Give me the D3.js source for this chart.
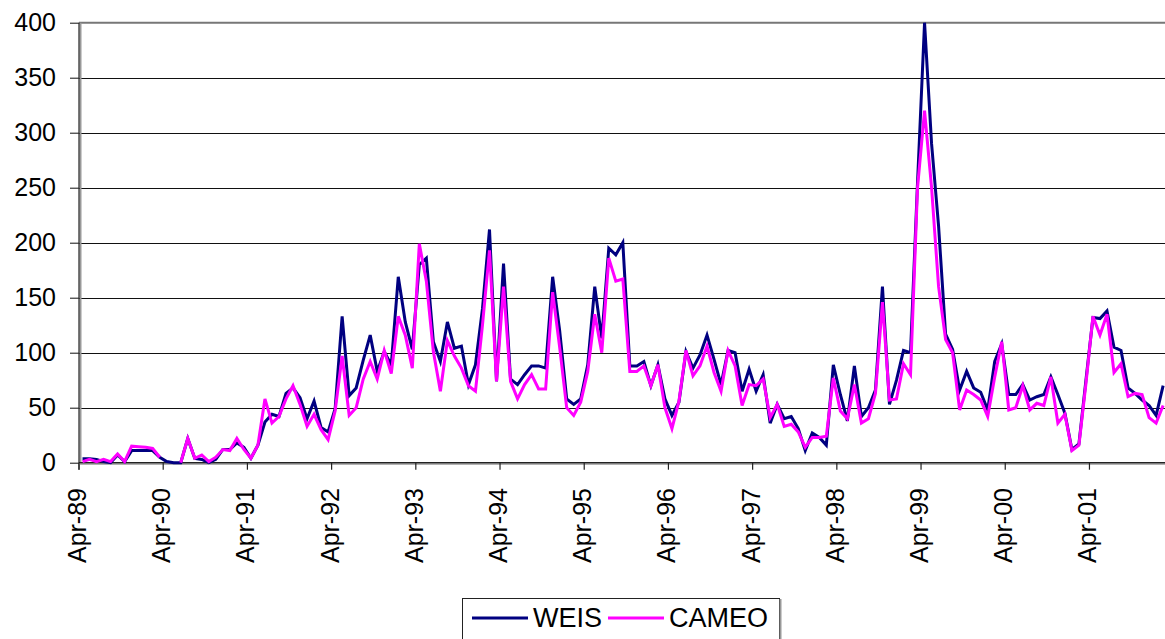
<!DOCTYPE html>
<html>
<head>
<meta charset="utf-8">
<script src="https://cdn.jsdelivr.net/npm/d3@7"></script>
<style>
  html, body { margin: 0; padding: 0; background: #fff; }
  svg { display: block; font-family: "Liberation Sans", Arial, sans-serif; }
</style>
</head>
<body>
<svg id="chart" width="1165" height="639"></svg>
<script>
// ---- data (monthly counts, Apr-1989 onwards) ----
const startMonth = new Date(Date.UTC(1989, 3, 1));
const seriesNames = ["WEIS", "CAMEO"];
const weis = [
  3.5, 3.5, 3, 1, 0, 7, 1, 11, 11, 11, 11, 5,
  1, 0, 0, 22, 4, 3, 0, 3, 12, 12, 18, 14,
  4, 16, 37, 44, 42, 63, 68, 59, 40, 56, 32, 28,
  49, 133, 61, 68, 93, 116, 83, 101, 89, 169, 128, 103,
  180, 186, 110, 92, 128, 104, 106, 71, 89, 140, 212, 74,
  181, 76, 71, 80, 88, 88, 86, 169, 120, 58, 53, 58,
  89, 160, 113, 195, 189, 200, 88, 88, 92, 70, 89, 58,
  43, 55, 101, 86, 98, 116, 94, 71, 102, 100, 65, 85,
  65, 80, 36, 53, 40, 42, 31, 11, 27, 23, 16, 89,
  62, 38, 88, 42, 50, 66, 160, 53, 75, 102, 100, 255,
  400, 290, 215, 117, 103, 66, 83, 68, 64, 48, 92, 108,
  62, 62, 71, 57, 60, 62, 78, 62, 45, 12, 17, 75,
  132, 131, 138, 105, 102, 68, 63, 57, 52, 43, 70
];
const cameo = [
  1, 3, 1, 3, 1, 8, 1, 15, 14.5, 14, 13, 5,
  null, null, 0, 22, 4, 7, 1, 5, 12, 11, 22, 12,
  4, 16, 58, 36, 42, 58, 70, 53, 33, 44, 30, 21,
  47, 97, 43, 50, 76, 92, 76, 102, 81, 133, 116, 86,
  199, 165, 101, 65, 111, 97, 86, 70, 65, 125, 193, 74,
  160, 74, 58, 71, 80, 67, 67, 155, 105, 50, 43, 55,
  83, 135, 100, 186, 165, 167, 83, 83, 88, 70, 89, 50,
  31, 56, 102, 79, 88, 106, 82, 65, 102, 88, 52, 71,
  70, 76, 41, 53, 33, 35, 28, 14, 23, 23, 24, 77,
  47, 40, 71, 36, 40, 63, 146, 57, 58, 90, 80, 250,
  320, 250, 160, 112, 100, 48, 66, 62, 57, 42, 78, 110,
  48, 50, 70, 48, 54, 52, 78, 36, 44, 11, 16, 72,
  133, 116, 135, 82, 90, 60, 63, 62, 41, 36, 52
];
const yTicks = [0, 50, 100, 150, 200, 250, 300, 350, 400];
const xTickLabels = ["Apr-89","Apr-90","Apr-91","Apr-92","Apr-93","Apr-94","Apr-95",
                     "Apr-96","Apr-97","Apr-98","Apr-99","Apr-00","Apr-01"];

(function () {
// categories: one per month
const categories = d3.utcMonth.range(startMonth, d3.utcMonth.offset(startMonth, weis.length));
const fmt = d3.utcFormat("%b-%y");

const svg = d3.select("#chart");
const pLeft = 79, pRight = 79 + categories.length * 7.017, pTop = 22.7, pBottom = 462.7;

const x = d3.scaleBand().domain(d3.range(categories.length)).range([pLeft, pRight]).padding(0);
const y = d3.scaleLinear().domain([0, 400]).range([pBottom, pTop]);
const cx = i => x(i) + x.bandwidth() / 2;

// gridlines
svg.append("g").selectAll("line").data(yTicks.filter(v => v > 0 && v < 400)).join("line")
  .attr("x1", pLeft).attr("x2", 1165)
  .attr("y1", d => Math.round(y(d)) + 0.5).attr("y2", d => Math.round(y(d)) + 0.5)
  .attr("stroke", "#111").attr("stroke-width", 1);
// top frame
svg.append("line").attr("x1", pLeft).attr("x2", 1165)
  .attr("y1", y(400)).attr("y2", y(400)).attr("stroke", "#777").attr("stroke-width", 2);

// y axis
const yAxis = d3.axisLeft(y).tickValues(yTicks).tickSize(9).tickPadding(14);
const gy = svg.append("g").attr("transform", `translate(${pLeft},0)`).call(yAxis);
gy.select(".domain").remove();
gy.selectAll(".tick line").attr("stroke", "#111");
gy.selectAll(".tick text").attr("font-size", 25).attr("fill", "#000")
  .attr("font-family", "'Liberation Sans', Arial, sans-serif");
svg.append("line").attr("x1", pLeft + 1.5).attr("x2", pLeft + 1.5).attr("y1", pTop).attr("y2", pBottom)
  .attr("stroke", "#999").attr("stroke-width", 2);
svg.append("line").attr("x1", pLeft).attr("x2", pLeft).attr("y1", pTop).attr("y2", pBottom + 7)
  .attr("stroke", "#222").attr("stroke-width", 1.2);

// x axis
const tickIdx = d3.range(0, categories.length, 12);
const gx = svg.append("g");
gx.append("line").attr("x1", pLeft).attr("x2", 1165).attr("y1", pBottom + 1).attr("y2", pBottom + 1)
  .attr("stroke", "#999").attr("stroke-width", 2);
gx.append("line").attr("x1", pLeft).attr("x2", 1165).attr("y1", pBottom).attr("y2", pBottom)
  .attr("stroke", "#222").attr("stroke-width", 1.2);
gx.selectAll("line.tk").data(tickIdx).join("line").attr("class", "tk")
  .attr("x1", d => x(d)).attr("x2", d => x(d)).attr("y1", pBottom).attr("y2", pBottom + 7)
  .attr("stroke", "#222").attr("stroke-width", 1.2);
gx.selectAll("text").data(tickIdx).join("text")
  .attr("transform", d => `translate(${x(d) + 7},488) rotate(-90)`)
  .attr("text-anchor", "end").attr("font-size", 25).attr("fill", "#000")
  .text((d, k) => xTickLabels[k] || fmt(categories[d]));

// lines
const line = d3.line().defined(d => d[1] != null).x(d => cx(d[0])).y(d => y(d[1]));
const colors = ["#000080", "#FF00FF"];
[weis, cameo].forEach((s, k) => {
  svg.append("path").datum(s.map((v, i) => [i, v]))
    .attr("d", line).attr("fill", "none").attr("stroke", colors[k])
    .attr("stroke-width", 3).attr("stroke-linejoin", "miter").attr("stroke-miterlimit", 4);
});

// legend
const lg = svg.append("g");
lg.append("rect").attr("x", 462.5).attr("y", 598.5).attr("width", 317).attr("height", 60)
  .attr("fill", "#fff").attr("stroke", "#222").attr("stroke-width", 1);
lg.append("line").attr("x1", 780.5).attr("x2", 780.5).attr("y1", 599).attr("y2", 639)
  .attr("stroke", "#999").attr("stroke-width", 2);
const lgX = [472, 608];
seriesNames.forEach((n, k) => {
  lg.append("line").attr("x1", lgX[k]).attr("x2", lgX[k] + 56).attr("y1", 618).attr("y2", 618)
    .attr("stroke", colors[k]).attr("stroke-width", 3);
  lg.append("text").attr("x", lgX[k] + 61).attr("y", 627).attr("font-size", 27).attr("fill", "#000").text(n);
});
})();
</script>
</body>
</html>
